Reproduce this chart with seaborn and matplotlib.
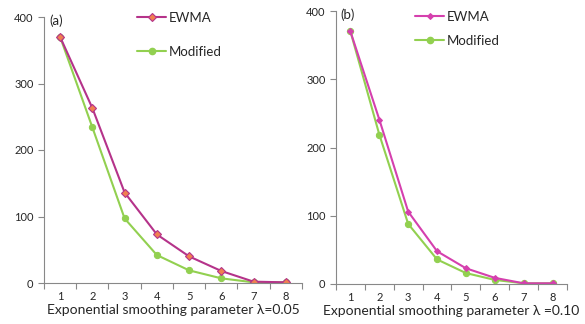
import matplotlib as mpl

mpl.use('Agg')
import pandas as pd
import matplotlib.pyplot as plt
import seaborn as sns
from matplotlib.lines import Line2D

sns.set(style='white')
plt.rcParams['font.family'] = ['Lato', 'DejaVu Sans']

#### Data ####
shifts = [1, 2, 3, 4, 5, 6, 7, 8]
ewma_a = [370, 263, 136, 73, 40, 18, 2, 1]
modified_a = [370, 234, 97, 42, 19, 7, 1, 1]
ewma_b = [370, 241, 106, 48, 23, 9, 1, 1]
modified_b = [370, 219, 88, 36, 16, 6, 1, 1]

GREEN = '#92D050'


def draw_panel(ax, ewma, modified, ewma_color, ewma_face, ewma_ms, label, xlab,
               legend_anchor, legend_gap):
    df = pd.DataFrame({'x': shifts, 'EWMA': ewma, 'Modified': modified})
    sns.lineplot(data=df, x='x', y='Modified', color=GREEN, lw=1.5,
                 marker='o', markersize=4.5, markeredgecolor=GREEN, ax=ax)
    sns.lineplot(data=df, x='x', y='EWMA', color=ewma_color, lw=1.5,
                 marker='D', markersize=ewma_ms, markerfacecolor=ewma_face,
                 markeredgecolor=ewma_color, markeredgewidth=0.8, ax=ax)

    ax.set_xlim(0.5, 8.5)
    ax.set_ylim(0, 400)
    ax.set_yticks([0, 100, 200, 300, 400])
    ax.set_xticks(shifts)
    ax.set_xticks([i + 0.5 for i in range(0, 9)], minor=True)
    ax.tick_params(axis='x', which='major', length=0, labelsize=8, pad=6)
    ax.tick_params(axis='x', which='minor', length=4, width=0.8,
                   color='#888888', direction='out', bottom=True)
    ax.tick_params(axis='y', length=4, width=0.8, color='#888888',
                   direction='out', left=True, labelsize=8)
    ax.set_xlabel(xlab, fontsize=10, labelpad=1)
    ax.set_ylabel('')

    for s in ['top', 'right']:
        ax.spines[s].set_color('none')
    for s in ['left', 'bottom']:
        ax.spines[s].set_color('#888888')
        ax.spines[s].set_linewidth(0.8)

    ax.text(0.02, 1.01, label, transform=ax.transAxes, fontsize=9.5,
            va='top', ha='left')

    handles = [
        Line2D([], [], color=ewma_color, lw=1.5, marker='D',
               markersize=ewma_ms, markerfacecolor=ewma_face,
               markeredgecolor=ewma_color, markeredgewidth=0.8),
        Line2D([], [], color=GREEN, lw=1.5, marker='o', markersize=4.5),
    ]
    ax.legend(handles, ['EWMA', 'Modified'], loc='upper left',
              bbox_to_anchor=legend_anchor, frameon=False, fontsize=9.5,
              handlelength=2.2, handletextpad=0.2, labelspacing=legend_gap,
              borderaxespad=0)


figure = plt.figure(figsize=(5.85, 3.24), dpi=100)
ax1 = figure.add_axes([44 / 585, 1 - 283 / 324, 258 / 585, 266 / 324])
ax2 = figure.add_axes([336 / 585, 1 - 284 / 324, 231 / 585, 273 / 324])

draw_panel(ax1, ewma_a, modified_a, '#B5338A', '#F08050', 4.2,
           '(a)', 'Exponential smoothing parameter \u03bb=0.05',
           (0.34, 1.04), 1.7)
draw_panel(ax2, ewma_b, modified_b, '#D540AE', '#D540AE', 3,
           '(b)', 'Exponential smoothing parameter \u03bb =0.10',
           (0.32, 1.02), 0.9)

plt.savefig('out.png', dpi=100)
